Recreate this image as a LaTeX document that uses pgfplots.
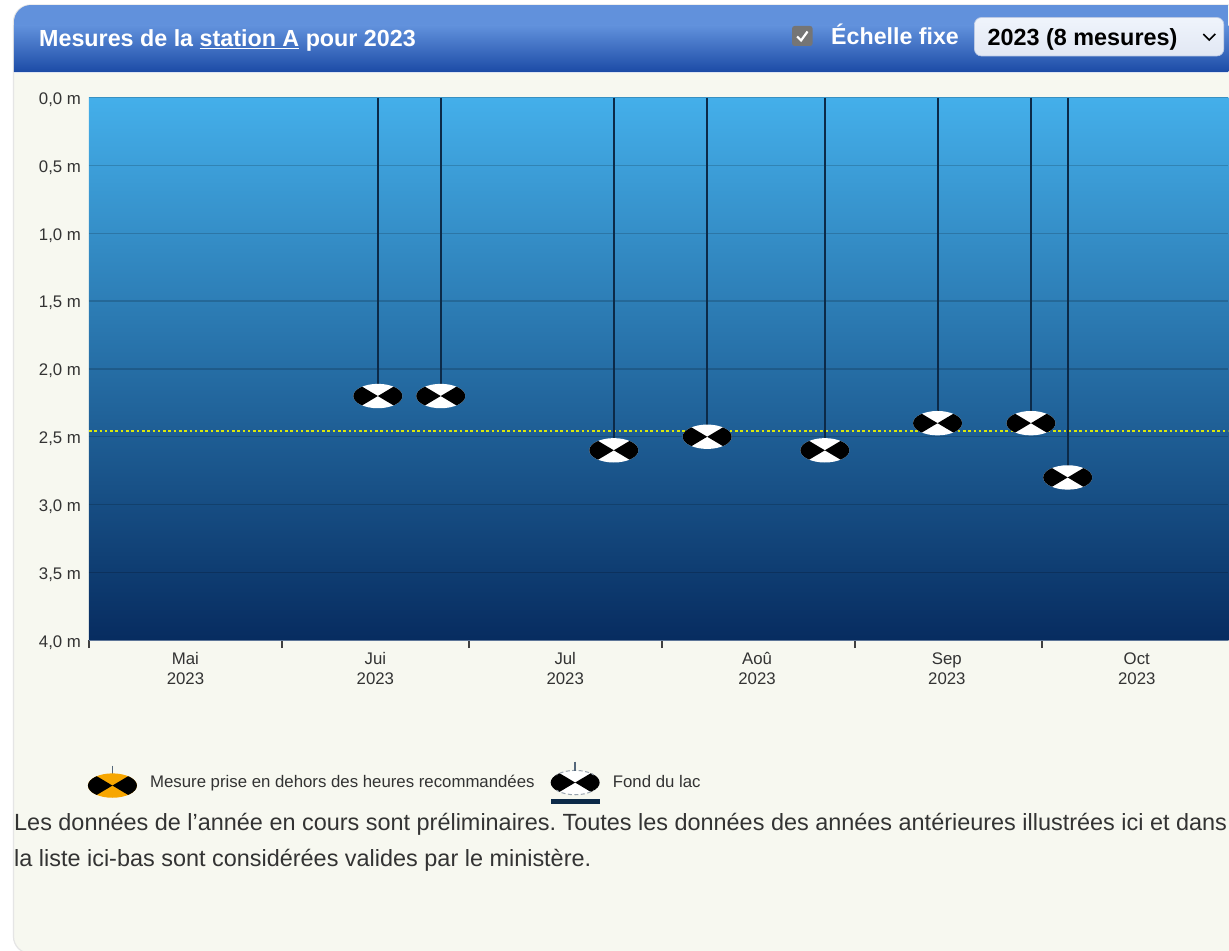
\documentclass[border=0pt]{standalone}
\usepackage{pgfplots}
\pgfplotsset{compat=1.18}
\usepackage{fontspec}
\setmainfont{Liberation Sans}
\frenchspacing
\definecolor{panel}{HTML}{F7F8F0}
\definecolor{txt}{HTML}{333333}
\definecolor{hdrtop}{HTML}{6191DC}
\definecolor{hdrbot}{HTML}{1C4BA6}
\definecolor{watertop}{HTML}{44AFEA}
\definecolor{waterbot}{HTML}{072C60}
\definecolor{stem}{HTML}{0C2A48}
\definecolor{buoyorange}{HTML}{F7A600}
\definecolor{stalk}{HTML}{55677A}
\newcommand\fs[1]{\fontsize{#1}{#1}\selectfont}
\newcommand\buoy[1]{%
  \pgfpathellipse{\pgfpointorigin}{\pgfqpoint{24.5pt}{0pt}}{\pgfqpoint{0pt}{12.2pt}}%
  \pgfsetfillcolor{#1}\pgfusepathqfill
  \pgfpathellipse{\pgfpointorigin}{\pgfqpoint{24.5pt}{0pt}}{\pgfqpoint{0pt}{12.2pt}}%
  \pgfusepathqclip
  \pgfsetfillcolor{black}%
  \pgfpathmoveto{\pgfpointorigin}\pgfpathlineto{\pgfqpoint{-26pt}{15.5pt}}\pgfpathlineto{\pgfqpoint{-26pt}{-15.5pt}}\pgfpathclose
  \pgfpathmoveto{\pgfpointorigin}\pgfpathlineto{\pgfqpoint{26pt}{15.5pt}}\pgfpathlineto{\pgfqpoint{26pt}{-15.5pt}}\pgfpathclose
  \pgfusepathqfill}
\pgfdeclareplotmark{buoy}{\pgfscope\buoy{white}\endpgfscope}
\pgfdeclareplotmark{buoyorange}{\pgfscope\buoy{buoyorange}\endpgfscope}
\pgfplotstableread{
day depth
46.4 2.2
56.5 2.2
84.3 2.6
99.3 2.5
118.2 2.6
136.3 2.4
151.3 2.4
157.2 2.8
}\mesures
\begin{document}
\begin{tikzpicture}
\begin{scope}[x=1pt,y=-1pt]
\useasboundingbox (0,0) rectangle (1229,951);
\fill[white] (0,0) rectangle (1229,951);
% panel
\path[fill=panel,draw=black!10,line width=1.2pt,rounded corners=17pt] (13.5,5) -- (13.5,954) -- (1300,954) -- (1300,5) -- cycle;
\begin{scope}
\clip[rounded corners=17pt] (14,5) -- (14,100) -- (1300,100) -- (1300,5) -- cycle;
\fill[hdrtop] (14,5) rectangle (1229,26);
\shade[top color=hdrtop,bottom color=hdrbot] (14,25.5) rectangle (1229,72);
\end{scope}
\draw[white!85!hdrbot,line width=0.8pt] (14,72.5) -- (1229,72.5);
\node[anchor=base west,inner sep=0,text=white] at (39,46.3) {\fs{23.3}\bfseries Mesures de la \underline{station A} pour 2023};
% scale check box
\fill[black!54,rounded corners=2.5pt] (792.5,26) rectangle (813,46);
\draw[white,line width=2.2pt] (797.5,36.5) -- (801.5,40.5) -- (808,31.5);
\node[anchor=base west,inner sep=0,text=white] at (831.5,44.8) {\fs{23.2}\bfseries Échelle fixe};
\shade[top color=white!90!hdrtop,bottom color=white!87!hdrbot,draw=white!70!hdrbot,rounded corners=7pt,line width=0.7pt] (975,17.5) rectangle (1224.5,56);
\node[anchor=base west,inner sep=0,text=black] at (988,45.5) {\fs{23.4}\bfseries 2023 (8 mesures)};
\draw[black,line width=1.6pt] (1204,34) -- (1210,40) -- (1216,34);
\end{scope}
\begin{axis}[
  at={(89pt,-640.6pt)},anchor=south west,
  scale only axis,width=1140pt,height=543pt,
  xmin=0,xmax=183,ymin=0,ymax=4,y dir=reverse,
  axis background/.style={top color=watertop,bottom color=waterbot},
  axis x line*=bottom,axis y line*=left,
  x axis line style={draw=white!35!waterbot,-,line width=1pt},
  y axis line style={draw=none,-},
  xtick={15.5,46,76.5,107.3,137.8,168.3},
  xticklabels={{Mai\\2023},{Jui\\2023},{Jul\\2023},{Aoû\\2023},{Sep\\2023},{Oct\\2023}},
  minor xtick={0,31,61,92,123,153},
  tick align=outside,
  major tick length=0pt,
  minor tick length=8pt,
  minor tick style={black!75,line width=2pt},
  ticklabel style={font=\fontsize{16.8}{20}\selectfont,text=txt},
  xticklabel style={align=center,yshift=-12.3pt,inner sep=0pt},
  yticklabel style={xshift=-4.5pt,yshift=-2pt},
  ytick={0,0.5,...,4},
  yticklabels={{0,0 m},{0,5 m},{1,0 m},{1,5 m},{2,0 m},{2,5 m},{3,0 m},{3,5 m},{4,0 m}},
  ymajorgrids,
  major grid style={black,opacity=0.17,line width=1.4pt},
]
\addplot[draw=yellow!85!green,line width=1.7pt,dash pattern=on 2.6pt off 2.7pt] coordinates {(0,2.46) (183,2.46)};
\addplot[ycomb,draw=stem,line width=2pt,mark=buoy,mark options={solid}] table[x=day,y=depth] {\mesures};
\end{axis}
\begin{scope}[x=1pt,y=-1pt]
% legend
\draw[stalk,line width=1.6pt] (112.4,766) -- (112.4,776);
\begin{scope}[shift={(112.5,786)}]
\pgfuseplotmark{buoyorange}
\end{scope}
\node[anchor=base west,inner sep=0,text=txt] at (150,787.7) {\fs{16.8}Mesure prise en dehors des heures recommandées};
\begin{scope}[shift={(575.5,783)}]
\pgfuseplotmark{buoy}
\end{scope}
\begin{scope}
\clip (557,760) rectangle (594,800);
\draw[stalk!60,dash pattern=on 4pt off 2.5pt,line width=1pt] (575.5,783) ellipse[x radius=24,y radius=12.2];
\end{scope}
\draw[stalk,line width=2pt] (575.7,762) -- (575.7,771);
\fill[stem] (551,799) rectangle (600,804);
\node[anchor=base west,inner sep=0,text=txt] at (613,787.7) {\fs{16.8}Fond du lac};
\node[anchor=base west,inner sep=0,text=txt] at (14,831) {\fs{23.45}Les données de l’année en cours sont préliminaires. Toutes les données des années antérieures illustrées ici et dans};
\node[anchor=base west,inner sep=0,text=txt] at (14,867) {\fs{23.45}la liste ici-bas sont considérées valides par le ministère.};
\end{scope}
\end{tikzpicture}
\end{document}
